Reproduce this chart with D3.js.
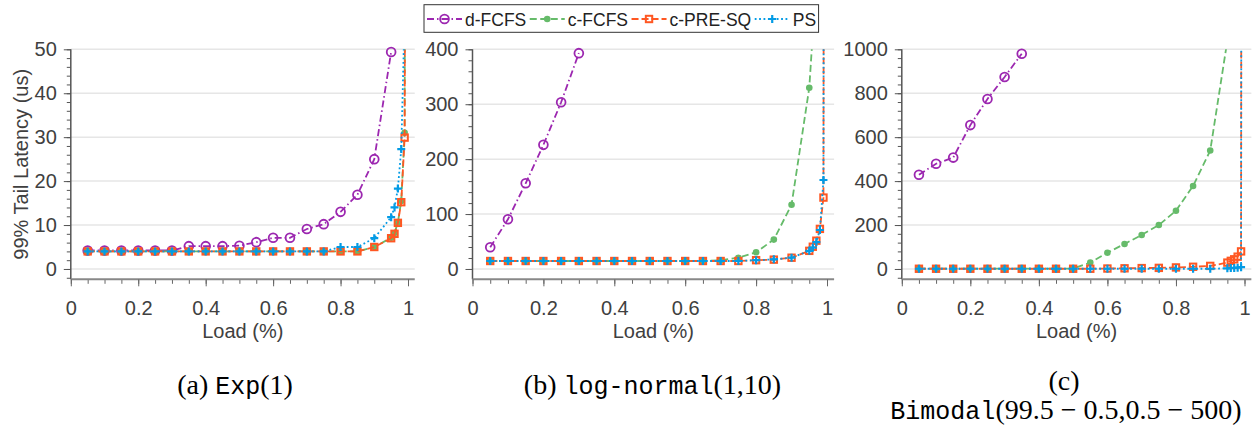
<!DOCTYPE html>
<html><head><meta charset="utf-8">
<script src="https://cdn.jsdelivr.net/npm/d3@7"></script>
<style>body{margin:0;background:#fff}svg{display:block}</style>
</head><body>
<svg id="chart" width="1258" height="435"></svg>
<script>
// ---------- data ----------
const loads = [0.05,0.1,0.15,0.2,0.25,0.3,0.35,0.4,0.45,0.5,0.55,0.6,0.65,0.7,0.75,0.8,0.85,0.9,0.95,0.96,0.97,0.98,0.99,0.995];
const seriesNames = ["d-FCFS","c-FCFS","c-PRE-SQ","PS"];

// (a) Exp(1)
const expDFCFS  = [4.2,4.2,4.2,4.2,4.2,4.2,5.2,5.2,5.2,5.3,6.1,7.1,7.1,9.1,10.2,13.0,16.9,25.0,49.4,null,null,null,null,null];
const expCFCFS  = [4,4,4,4,4,4,4,4,4,4,4,4,4,4,4,4,4,5.0,7.1,8.2,10.6,15.5,31,200];
const expCPRESQ = [4,4,4,4,4,4,4,4,4,4,4,4,4,4,4,4,4,5.0,7.0,8.0,10.5,15.2,29.9,200];
const expPS     = [4,4,4,4,4,4,4,4,4,4,4,4,4,4,4,5.0,5.0,7.0,11.8,14.0,18.3,27.3,58,200];

// (b) log-normal(1,10)
const lnDFCFS  = [39.5,90.5,156,226,303.5,393,null,null,null,null,null,null,null,null,null,null,null,null,null,null,null,null,null,null];
const lnCFCFS  = [14.5,14.5,14.5,14.5,14.5,14.5,14.5,14.5,14.5,14.5,14.5,14.5,14.5,16,20.5,30.5,53.5,117,330,430,600,900,1500,3000];
const lnCPRESQ = [14.5,14.5,14.5,14.5,14.5,14.5,14.5,14.5,14.5,14.5,14.5,14.5,14.5,14.5,14.5,16,17,20.5,33,40.5,51.5,73,130,3000];
const lnPS     = [14.5,14.5,14.5,14.5,14.5,14.5,14.5,14.5,14.5,14.5,14.5,14.5,14.5,14.5,14.5,16,17.5,20.5,33,39,49,71,162,3000];

// (c) Bimodal(99.5-0.5, 0.5-500)
const biDFCFS  = [429,479,507,655,774,874,980,null,null,null,null,null,null,null,null,null,null,null,null,null,null,null,null,null];
const biCFCFS  = [2,2,2,2,2,2,2,2,2,2,29,74,114,155,200,265,378,539,1040,1400,2000,3000,5000,9000];
const biCPRESQ = [1,1,1,1,1,1,1,1,1,1,1,2,3,4,5,7,10,14,29,37,44,56,80,9000];
const biPS     = [1,1,1,1,1,1,1,1,1,1,1,1,1,1,1,1,1,1,3,4,5,6,8,9000];

// ticks
const xTicks = [0,0.2,0.4,0.6,0.8,1];
const xTickLabels = ["0","0.2","0.4","0.6","0.8","1"];
const yTicksA = [0,10,20,30,40,50];
const yTicksB = [0,100,200,300,400];
const yTicksC = [0,200,400,600,800,1000];

// ---------- styles ----------
const colors = ["#9c27b0","#66bb6a","#ff5722","#039be5"];
const dashes = ["7,3,1.5,3","7,3.5","7,3","1.8,2.6"];
const markerTypes = ["circleOpen","circleFilled","square","plus"];

const svg = d3.select("#chart");
const plotTop = 49.3, plotBottom = 279.3;

const panels = [
  {series:[expDFCFS,expCFCFS,expCPRESQ,expPS], yTicks:yTicksA, yMax:50, minor:2, x0:70.8, x1:408, ylabel:true},
  {series:[lnDFCFS,lnCFCFS,lnCPRESQ,lnPS], yTicks:yTicksB, yMax:400, minor:20, x0:472.5, x1:827},
  {series:[biDFCFS,biCFCFS,biCPRESQ,biPS], yTicks:yTicksC, yMax:1000, minor:40, x0:901.8, x1:1244.5}
];

function drawMarker(g, type, x, y, color){
  if(type==="circleOpen"){
    g.append("circle").attr("cx",x).attr("cy",y).attr("r",4.4)
      .attr("fill","none").attr("stroke",color).attr("stroke-width",1.8);
  } else if(type==="circleFilled"){
    g.append("circle").attr("cx",x).attr("cy",y).attr("r",3.3).attr("fill",color);
  } else if(type==="square"){
    g.append("rect").attr("x",x-3.2).attr("y",y-3.2).attr("width",6.4).attr("height",6.4)
      .attr("fill","none").attr("stroke",color).attr("stroke-width",2);
  } else {
    g.append("path").attr("d",`M${x-4},${y}H${x+4}M${x},${y-4}V${y+4}`)
      .attr("stroke",color).attr("stroke-width",2.2).attr("fill","none");
  }
}

panels.forEach((p,pi)=>{
  const x = d3.scaleLinear().domain([0,1]).range([p.x0,p.x1]);
  const xEnd = x(1.02);
  const yMin = -p.yMax*0.047;
  const y = d3.scaleLinear().domain([yMin,p.yMax]).range([plotBottom,plotTop]);
  const g = svg.append("g");

  // grid
  g.append("g").selectAll("line").data(p.yTicks).join("line")
    .attr("x1",p.x0).attr("x2",xEnd).attr("y1",d=>y(d)).attr("y2",d=>y(d))
    .attr("stroke","#e6e6e6").attr("stroke-width",1.5);

  // minor ticks
  const yMinor = d3.range(Math.ceil(yMin/p.minor)*p.minor, p.yMax+1e-9, p.minor);
  const xMinor = d3.range(0,21).map(i=>i*0.05);
  g.append("g").attr("transform",`translate(${p.x0},0)`)
    .call(d3.axisLeft(y).tickValues(yMinor).tickSize(4).tickFormat("").tickSizeOuter(0))
    .call(a=>{a.select(".domain").remove(); a.selectAll("line").attr("stroke","#555").attr("stroke-width",1);});
  g.append("g").attr("transform",`translate(0,${plotBottom})`)
    .call(d3.axisBottom(x).tickValues(xMinor).tickSize(4.5).tickFormat("").tickSizeOuter(0))
    .call(a=>{a.select(".domain").remove(); a.selectAll("line").attr("stroke","#666").attr("stroke-width",1);});

  // major axes
  const yAx = g.append("g").attr("transform",`translate(${p.x0},0)`)
    .call(d3.axisLeft(y).tickValues(p.yTicks).tickFormat(d=>String(d)).tickSize(7).tickPadding(7).tickSizeOuter(0));
  yAx.select(".domain").attr("d",`M0,${plotTop}V${plotBottom}`).attr("stroke","#555").attr("stroke-width",1.5);
  yAx.selectAll(".tick line").attr("stroke","#555").attr("stroke-width",1);
  yAx.selectAll("text").attr("font-family","Liberation Sans, Arial, sans-serif").attr("font-size",20).attr("fill","#404040");

  const xAx = g.append("g").attr("transform",`translate(0,${plotBottom})`)
    .call(d3.axisBottom(x).tickValues(xTicks).tickFormat((d,i)=>xTickLabels[i]).tickSize(7).tickPadding(14.4).tickSizeOuter(0));
  xAx.select(".domain").attr("d",`M${p.x0},0H${xEnd}`).attr("stroke","#888").attr("stroke-width",2);
  xAx.selectAll(".tick line").attr("stroke","#666").attr("stroke-width",1);
  xAx.selectAll("text").attr("font-family","Liberation Sans, Arial, sans-serif").attr("font-size",20).attr("fill","#404040");

  g.append("text").attr("x",(p.x0+xEnd)/2).attr("y",338.3).attr("text-anchor","middle")
    .attr("font-family","Liberation Sans, Arial, sans-serif").attr("font-size",20).attr("fill","#404040")
    .text("Load (%)");
  if(p.ylabel){
    g.append("text").attr("transform",`translate(28,${(plotTop+plotBottom)/2}) rotate(-90)`).attr("text-anchor","middle")
      .attr("font-family","Liberation Sans, Arial, sans-serif").attr("font-size",20).attr("fill","#404040")
      .text("99% Tail Latency (us)");
  }

  // clip
  const cid = "clip"+pi;
  svg.append("defs").append("clipPath").attr("id",cid).append("rect")
    .attr("x",p.x0).attr("y",plotTop).attr("width",xEnd-p.x0).attr("height",plotBottom-plotTop);

  const line = d3.line().x(d=>x(d[0])).y(d=>y(d[1]));
  p.series.forEach((vals,si)=>{
    const pts = loads.map((l,i)=>[l,vals[i]]).filter(d=>d[1]!=null);
    g.append("path").attr("d",line(pts)).attr("clip-path",`url(#${cid})`)
      .attr("fill","none").attr("stroke",colors[si]).attr("stroke-width",1.8)
      .attr("stroke-dasharray",dashes[si]);
    const mg = g.append("g");
    pts.filter(d=>d[1]>=yMin && d[1]<=p.yMax).forEach(d=>drawMarker(mg,markerTypes[si],x(d[0]),y(d[1]),colors[si]));
  });
});

// ---------- legend ----------
const lg = svg.append("g");
const box = lg.append("rect").attr("y",4.7).attr("height",27.6).attr("fill","#fff")
  .attr("stroke","#333").attr("stroke-width",1);
let cx = 427;
seriesNames.forEach((n,i)=>{
  lg.append("line").attr("x1",cx).attr("x2",cx+35).attr("y1",19).attr("y2",19)
    .attr("stroke",colors[i]).attr("stroke-width",1.8).attr("stroke-dasharray",dashes[i]);
  drawMarker(lg, markerTypes[i], cx+17.5, 19, colors[i]);
  const t = lg.append("text").attr("x",cx+38).attr("y",26).attr("font-family","Liberation Sans, Arial, sans-serif")
    .attr("font-size",17.5).attr("fill","#222").text(n);
  cx = cx + 38 + t.node().getComputedTextLength() + 3.5;
});
box.attr("x",424).attr("width",cx-424-1);

// ---------- captions ----------
function caption(xc, yb, parts){
  const t = svg.append("text").attr("x",xc).attr("y",yb).attr("text-anchor","middle").attr("fill","#000");
  parts.forEach(([s,mono])=>{
    t.append("tspan").attr("font-family", mono ? "Liberation Mono, Courier New, monospace" : "Liberation Serif, Times New Roman, serif")
      .attr("font-size", mono ? 25 : 28).text(s);
  });
}
caption(235, 394, [["(a) ",false],["Exp",true],["(1)",false]]);
caption(652.5, 394, [["(b) ",false],["log-normal",true],["(1,10)",false]]);
caption(1064, 390, [["(c)",false]]);
caption(1066, 419, [["Bimodal",true],["(99.5 \u2212 0.5,0.5 \u2212 500)",false]]);
</script>
</body></html>
